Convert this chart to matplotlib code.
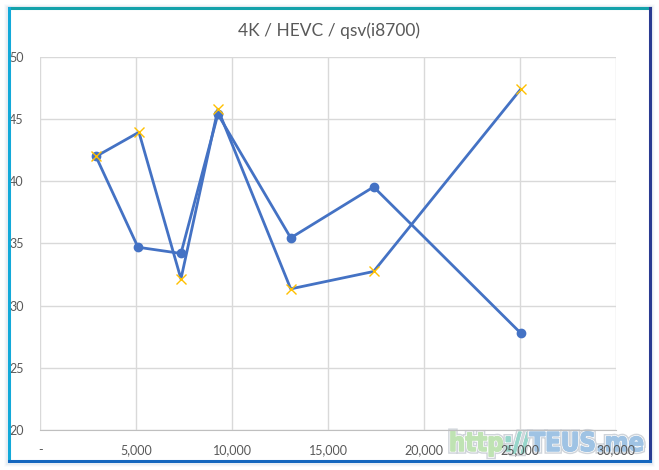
import matplotlib
matplotlib.use("Agg")
import matplotlib.pyplot as plt
from matplotlib.lines import Line2D
from matplotlib.patches import Rectangle, PathPatch
from matplotlib.textpath import TextPath, text_to_path
from matplotlib.font_manager import FontProperties
import matplotlib.patheffects as pe
from matplotlib.transforms import Affine2D

title = "4K / HEVC / qsv(i8700)"
s1_x = [2900, 5090, 7330, 9255, 13050, 17370, 25030]
s1_y = [42.0, 34.7, 34.2, 45.4, 35.45, 39.55, 27.8]
s2_x = [2900, 5140, 7330, 9255, 13050, 17370, 25030]
s2_y = [42.0, 43.95, 32.15, 45.8, 31.35, 32.75, 47.4]
xticks = [0, 5000, 10000, 15000, 20000, 25000, 30000]
xticklabels = ["-", "5,000", "10,000", "15,000", "20,000", "25,000", "30,000"]
yticks = [20, 25, 30, 35, 40, 45, 50]
watermark = [("http", "#bfe3b3"), ("://", "#97d6cb"), ("TEUS.me", "#9fc3e4")]

W, H = 659, 470
fig = plt.figure(figsize=(W / 100, H / 100), dpi=100)
fig.patch.set_facecolor("white")

# frame shadow and border (figure pixel coords)
pix = Affine2D().scale(1 / W, 1 / H) + fig.transFigure
for i, a in enumerate([0.05, 0.08, 0.12]):
    fig.patches.append(Rectangle((5 + i, 5 + i), 648 - 2 * i, 460 - 2 * i, transform=pix,
                                 facecolor="none", edgecolor="#9fb4cc", alpha=a, lw=2))
L, R, T, B = 8.5, 650, 470 - 8, 470 - 461
fig.lines.append(Line2D([L, R], [T, T], transform=pix, color="#14a2aa", lw=2.2))
fig.lines.append(Line2D([L, L], [B, T], transform=pix, color="#12a9d9", lw=2.2))
fig.lines.append(Line2D([R, R], [B, T], transform=pix, color="#2a3b92", lw=2.2))
fig.lines.append(Line2D([L, R], [B, B], transform=pix, color="#1466be", lw=2.2))

# watermark (below the axes so tick labels draw over it)
fp100 = FontProperties(family="DejaVu Sans", weight="bold", size=100)
full = "".join(p for p, _ in watermark)
total_w = text_to_path.get_text_width_height_descent(full, fp100, False)[0]
target_w, em_px = 195.0, 26.0
sx = target_w / total_w
sy = em_px / 100.0
xs, baseline = 449.0, 470 - 451.0
prefix = ""
for part, col in watermark:
    off = text_to_path.get_text_width_height_descent(prefix, fp100, False)[0] if prefix else 0.0
    tp = TextPath((0, 0), part, size=100, prop=fp100)
    tr = Affine2D().scale(sx, sy).translate(xs + off * sx, baseline) + pix
    patch = PathPatch(tp, transform=tr, facecolor=col, edgecolor=col, lw=0.8, alpha=0.95, zorder=-1,
                      path_effects=[pe.withStroke(linewidth=4, foreground="#cdd2d8"),
                                    pe.withStroke(linewidth=2, foreground="white"),
                                    pe.Normal()])
    fig.patches.append(patch)
    prefix += part

ax = fig.add_axes([40.3 / W, 1 - 430 / H, (616 - 40.3) / W, (430 - 57) / H])
ax.set_facecolor("none")
ax.set_xlim(0, 30000)
ax.set_ylim(20, 50)
ax.set_xticks(xticks)
ax.set_xticklabels(xticklabels)
ax.set_yticks(yticks)
ax.grid(True, color="#d9d9d9", lw=1)
ax.set_axisbelow(True)
for s in ["top", "right", "left"]:
    ax.spines[s].set_visible(False)
ax.spines["bottom"].set_color("#bfbfbf")
ax.tick_params(length=0, labelsize=9, labelcolor="#595959", pad=10)
ax.tick_params(axis="y", pad=12)
for lab in ax.get_xticklabels() + ax.get_yticklabels():
    lab.set_fontfamily("Lato")

ax.plot(s1_x, s1_y, color="#4472C4", lw=2.0, marker="o", ms=6,
        mfc="#4472C4", mec="#4472C4", zorder=3)
ax.plot(s2_x, s2_y, color="#4472C4", lw=2.0, marker="x", ms=6.5,
        mec="#FFC000", mew=1.0, zorder=3)

fig.text(0.5, 1 - 31 / H, title, ha="center", va="center", fontsize=12.5,
         color="#595959", fontfamily="Lato")

fig.savefig("out.png", dpi=100)
